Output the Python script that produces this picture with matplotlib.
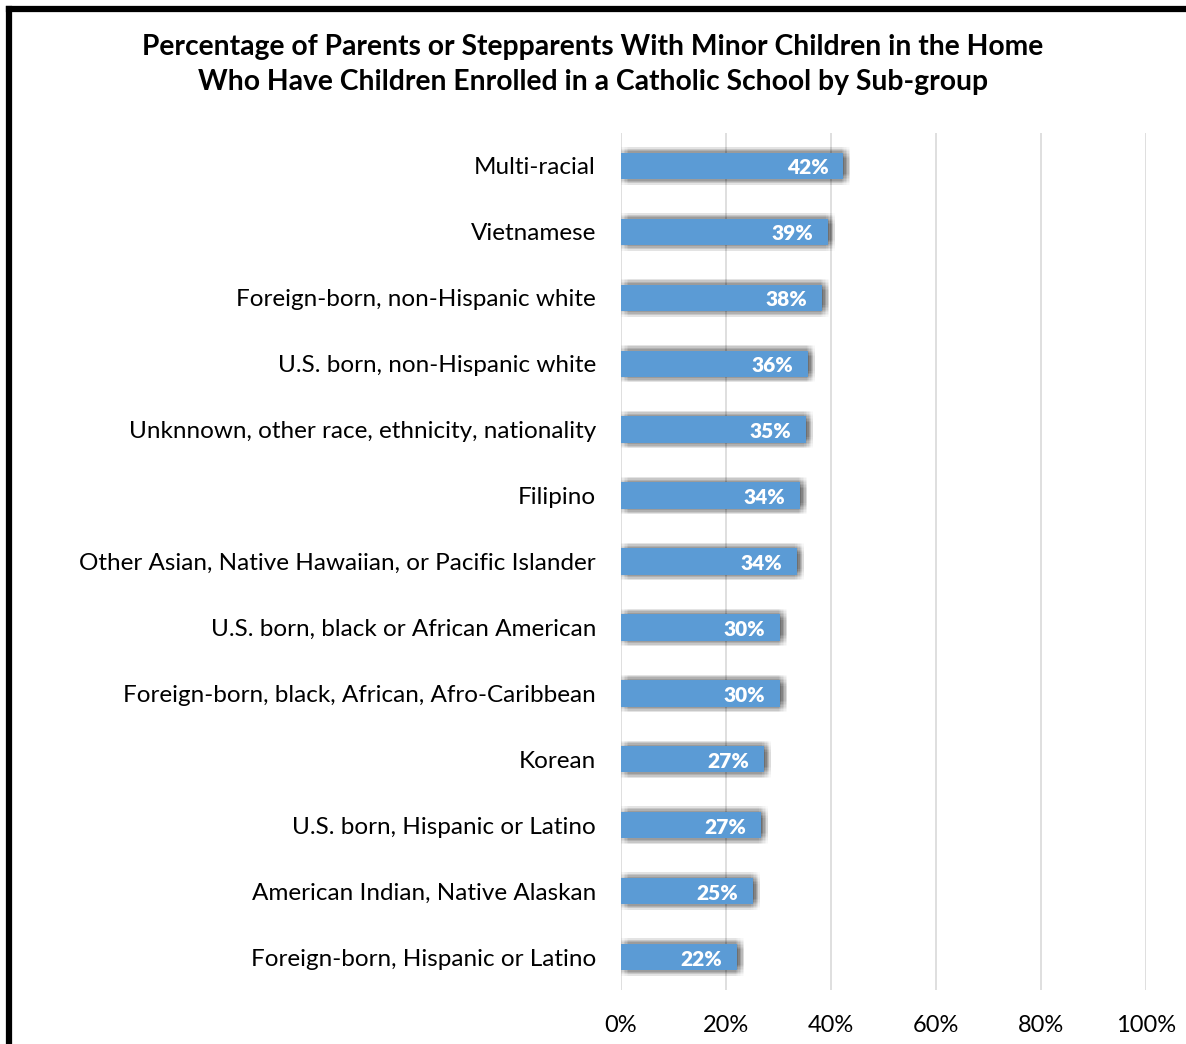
import numpy as np
import matplotlib.pyplot as plt
from matplotlib import patheffects as pe
from matplotlib.lines import Line2D

categories = [
    "Multi-racial",
    "Vietnamese",
    "Foreign-born, non-Hispanic white",
    "U.S. born, non-Hispanic white",
    "Unknnown, other race, ethnicity, nationality",
    "Filipino",
    "Other Asian, Native Hawaiian, or Pacific Islander",
    "U.S. born, black or African American",
    "Foreign-born, black, African, Afro-Caribbean",
    "Korean",
    "U.S. born, Hispanic or Latino",
    "American Indian, Native Alaskan",
    "Foreign-born, Hispanic or Latino",
]
values = [42.3, 39.4, 38.3, 35.6, 35.2, 34.1, 33.5, 30.3, 30.3, 27.2, 26.6, 25.1, 22.1]
x_ticks = [0, 20, 40, 60, 80, 100]

title = ("Percentage of Parents or Stepparents With Minor Children in the Home\n"
         "Who Have Children Enrolled in a Catholic School by Sub-group")

plt.rcParams["font.family"] = ["Lato", "DejaVu Sans"]

fig = plt.figure(figsize=(11.86, 10.44), dpi=100)
ax = fig.add_axes([0.5236, 0.0517, 0.4427, 0.8209])

y = np.arange(len(categories))
# soft drop shadow, built from many faint offset copies
shadow = [pe.SimplePatchShadow(offset=(dx, dy), shadow_rgbFace="black", alpha=0.016)
          for dx in (-1, 0, 1, 2, 3, 4, 5) for dy in (-4, -3, -2, -1, 0, 1, 2, 3, 4)]
bars = ax.barh(y, values, height=0.4, color="#5B9BD5", zorder=3)
for b in bars:
    b.set_path_effects(shadow + [pe.Normal()])

for yi, v in zip(y, values):
    ax.text(v - 2.8, yi + 0.03, f"{round(v)}%", ha="right", va="center",
            color="white", fontsize=15, fontweight="heavy", zorder=4)

ax.set_xlim(0, 100)
ax.set_ylim(len(categories) - 0.5, -0.5)
ax.set_xticks(x_ticks)
ax.set_xticklabels([f"{t}%" for t in x_ticks], fontsize=17)
ax.set_yticks(y)
ax.set_yticklabels(categories, fontsize=17.5)
ax.tick_params(length=0)
ax.tick_params(axis="y", pad=18)
ax.tick_params(axis="x", pad=18)
ax.grid(axis="x", color="#D9D9D9", linewidth=1.2, zorder=0)
for s in ax.spines.values():
    s.set_visible(False)

fig.text(0.5, 0.938, title, ha="center", va="center", fontsize=20.3,
         fontweight="bold", linespacing=1.45)

# frame around the chart (cropped on right and bottom)
fig.add_artist(Line2D([0.0072, 0.0072], [0, 0.9914], color="black", lw=4.5,
                      transform=fig.transFigure, solid_capstyle="projecting"))
fig.add_artist(Line2D([0.0072, 1], [0.9914, 0.9914], color="black", lw=4.5,
                      transform=fig.transFigure, solid_capstyle="projecting"))

fig.savefig("out.png", dpi=100)
